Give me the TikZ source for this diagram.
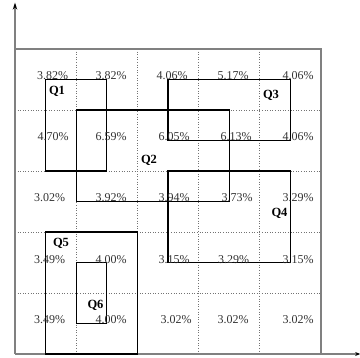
\documentclass[tikz,border=0pt]{standalone}
\usepackage{fontspec}
\setmainfont{Liberation Serif}
\usetikzlibrary{arrows.meta}
\begin{document}
\begin{tikzpicture}[
  axis/.style={draw=black!50, line width=1.3pt},
  gridline/.style={draw=black!55, dotted, line width=0.6pt},
  qbox/.style={draw=black, line width=1.2pt},
  pct/.style={font=\fontsize{12}{12}\selectfont, text=black!80, inner sep=0pt},
  qlab/.style={font=\fontsize{12.5}{12}\selectfont\bfseries, text=black, inner sep=0pt}
]
\useasboundingbox (0,0) rectangle (360pt,-358pt);
\begin{scope}[shift={(15pt,-49pt)}, x=61.2pt, y=-61pt]
  % grid
  \foreach \i in {1,2,3,4} {
    \draw[gridline] (\i,0) -- (\i,5);
    \draw[gridline] (0,\i) -- (5,\i);
  }
  % frame and axes
  \coordinate (O) at (0,5);
  \coordinate (ytip) at (0,-0.76);
  \coordinate (xtip) at (5.64,5);
  \coordinate (TR) at (5,0);
  \coordinate (TL) at (0,0);
  \coordinate (BR) at (5,5);
  \draw[axis] (TL) -- (TR) -- (BR);
  \draw[axis, -{Stealth[color=black, length=7pt, width=4.5pt]}] (O) -- (ytip);
  \draw[axis, -{Stealth[color=black, length=5pt, width=4pt]}] (O) -- (xtip);
  % query boxes
  \draw[qbox] (0.5,0.5) rectangle (1.5,2);
  \draw[qbox] (1,1) rectangle (3.5,2.5);
  \draw[qbox] (2.5,0.5) rectangle (4.5,1.5);
  \draw[qbox] (2.5,2) rectangle (4.5,3.5);
  \draw[qbox] (0.5,3) rectangle (2,5);
  \draw[qbox] (1,3.5) rectangle (1.5,4.5);
\end{scope}
% percentage labels
\node[pct] (p00) at (52.5pt,-76pt) {3.82\%};
\node[pct] (p01) at (111pt,-76pt) {3.82\%};
\node[pct] (p02) at (172pt,-76pt) {4.06\%};
\node[pct] (p03) at (233pt,-76pt) {5.17\%};
\node[pct] (p04) at (298pt,-76pt) {4.06\%};
\node[pct] (p10) at (53pt,-137pt) {4.70\%};
\node[pct] (p11) at (111pt,-137pt) {6.59\%};
\node[pct] (p12) at (174pt,-137pt) {6.05\%};
\node[pct] (p13) at (236pt,-137pt) {6.13\%};
\node[pct] (p14) at (298pt,-137pt) {4.06\%};
\node[pct] (p20) at (49.5pt,-198pt) {3.02\%};
\node[pct] (p21) at (111pt,-198pt) {3.92\%};
\node[pct] (p22) at (174pt,-198pt) {3.94\%};
\node[pct] (p23) at (237pt,-198pt) {3.73\%};
\node[pct] (p24) at (298pt,-198pt) {3.29\%};
\node[pct] (p30) at (49.5pt,-259.5pt) {3.49\%};
\node[pct] (p31) at (111pt,-259.5pt) {4.00\%};
\node[pct] (p32) at (174pt,-259.5pt) {3.15\%};
\node[pct] (p33) at (233.5pt,-259.5pt) {3.29\%};
\node[pct] (p34) at (298pt,-259.5pt) {3.15\%};
\node[pct] (p40) at (49.5pt,-320pt) {3.49\%};
\node[pct] (p41) at (111pt,-320pt) {4.00\%};
\node[pct] (p42) at (176pt,-320pt) {3.02\%};
\node[pct] (p43) at (233pt,-320pt) {3.02\%};
\node[pct] (p44) at (298pt,-320pt) {3.02\%};
% query labels
\node[qlab] (q1) at (57pt,-91pt) {Q1};
\node[qlab] (q2) at (149pt,-160pt) {Q2};
\node[qlab] (q3) at (271pt,-95pt) {Q3};
\node[qlab] (q4) at (279.5pt,-213pt) {Q4};
\node[qlab] (q5) at (61pt,-243pt) {Q5};
\node[qlab] (q6) at (95.5pt,-305.5pt) {Q6};
\end{tikzpicture}
\end{document}
